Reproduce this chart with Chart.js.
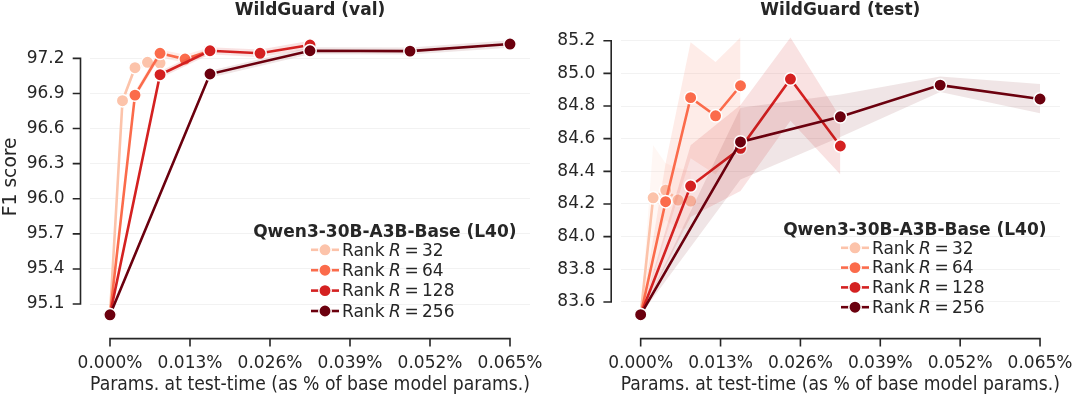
<!DOCTYPE html>
<html><head><meta charset="utf-8">
<script src="https://cdn.jsdelivr.net/npm/chart.js@4.4.1/dist/chart.umd.min.js"></script>
<style>
html,body{margin:0;padding:0;background:#fff;}
body{width:1080px;height:397px;position:relative;overflow:hidden;}
#c1{position:absolute;left:0;top:0;}
#c2{position:absolute;left:540px;top:0;}
</style></head><body>
<canvas id="c1" width="580" height="397"></canvas>
<canvas id="c2" width="540" height="397"></canvas>
<script>
// ---------- data ----------
const ranks = [32, 64, 128, 256];
const rankColors = ['#fcc3aa', '#fb6b4b', '#d42121', '#6b000e'];

// x: params at test-time (% of base model params)
const xR32  = [0, 0.00203, 0.00406, 0.00609, 0.00813];
const xR64  = [0, 0.00406, 0.00813, 0.01219, 0.01625];
const xR128 = [0, 0.00813, 0.01625, 0.02438, 0.0325];
const xR256 = [0, 0.01625, 0.0325, 0.04875, 0.065];

// WildGuard (val) F1
const valR32  = [95.008, 96.838, 97.120, 97.166, 97.160];
const valR64  = [95.008, 96.886, 97.243, 97.194, 97.262];
const valR128 = [95.008, 97.060, 97.265, 97.243, 97.314];
const valR256 = [95.008, 97.066, 97.265, 97.262, 97.322];
const valLoR32  = [95.008, 96.805, 97.090, 97.135, 97.125];
const valHiR32  = [95.008, 96.870, 97.150, 97.195, 97.195];
const valLoR64  = [95.008, 96.855, 97.210, 97.160, 97.230];
const valHiR64  = [95.008, 96.920, 97.275, 97.230, 97.295];
const valLoR128 = [95.008, 97.030, 97.235, 97.210, 97.280];
const valHiR128 = [95.008, 97.090, 97.295, 97.275, 97.350];
const valLoR256 = [95.008, 97.035, 97.235, 97.232, 97.290];
const valHiR256 = [95.008, 97.095, 97.295, 97.292, 97.355];

// WildGuard (test) F1
const testR32  = [83.522, 84.238, 84.285, 84.224, 84.218];
const testR64  = [83.522, 84.214, 84.851, 84.740, 84.924];
const testR128 = [83.522, 84.310, 84.541, 84.965, 84.555];
const testR256 = [83.522, 84.580, 84.734, 84.928, 84.843];
const testLoR32  = [83.522, 83.950, 84.100, 84.050, 84.050];
const testHiR32  = [83.522, 84.560, 84.450, 84.420, 84.400];
const testLoR64  = [83.522, 84.000, 84.480, 84.380, 84.600];
const testHiR64  = [83.522, 84.450, 85.190, 85.070, 85.220];
const testLoR128 = [83.522, 84.120, 84.280, 84.710, 84.380];
const testHiR128 = [83.522, 84.560, 84.806, 85.220, 84.730];
const testLoR256 = [83.522, 84.350, 84.610, 84.885, 84.755];
const testHiR256 = [83.522, 84.790, 84.870, 84.980, 84.935];

const xTicks = [0, 0.013, 0.026, 0.039, 0.052, 0.065];
const valYTicks  = [95.1, 95.4, 95.7, 96.0, 96.3, 96.6, 96.9, 97.2];
const testYTicks = [83.6, 83.8, 84.0, 84.2, 84.4, 84.6, 84.8, 85.0, 85.2];

const xSeries = [xR32, xR64, xR128, xR256];
const valSeries = [valR32, valR64, valR128, valR256];
const valLo = [valLoR32, valLoR64, valLoR128, valLoR256];
const valHi = [valHiR32, valHiR64, valHiR128, valHiR256];
const testSeries = [testR32, testR64, testR128, testR256];
const testLo = [testLoR32, testLoR64, testLoR128, testLoR256];
const testHi = [testHiR32, testHiR64, testHiR128, testHiR256];

// ---------- helpers ----------
const FONT = '"DejaVu Sans", "Liberation Sans", sans-serif';
const TXT = '#262626';
function hexA(hex, a) {
  const n = parseInt(hex.slice(1), 16);
  return `rgba(${(n>>16)&255},${(n>>8)&255},${n&255},${a})`;
}
function pts(xs, ys) { return xs.map((x, i) => ({x, y: ys[i]})); }

function buildDatasets(ys, lo, hi) {
  const ds = [];
  ranks.forEach((r, i) => {
    const o = (4 - i) * 10;
    const c = rankColors[i];
    ds.push({ data: pts(xSeries[i], lo[i]), borderWidth: 0, pointRadius: 0, fill: false, order: o + 2, borderColor: 'rgba(0,0,0,0)' });
    ds.push({ data: pts(xSeries[i], hi[i]), borderWidth: 0, pointRadius: 0, fill: '-1', order: o + 1,
              borderColor: 'rgba(0,0,0,0)', backgroundColor: hexA(c, i === 3 ? 0.1 : 0.13) });
    ds.push({ label: 'Rank R = ' + r, data: pts(xSeries[i], ys[i]), borderColor: c, borderWidth: 2.6,
              pointRadius: 6.2, pointBackgroundColor: c, pointBorderColor: '#ffffff', pointBorderWidth: 1.5,
              fill: false, order: o, tension: 0 });
  });
  return ds;
}

const spinePlugin = {
  id: 'spines',
  afterDraw(chart) {
    const {ctx, chartArea} = chart;
    const x = chart.scales.x, y = chart.scales.y;
    ctx.save();
    ctx.strokeStyle = TXT; ctx.lineWidth = 1.6; ctx.lineCap = 'square';
    const sx = chartArea.left - 9.5;
    const yp = y.ticks.map(t => y.getPixelForValue(t.value));
    ctx.beginPath();
    ctx.moveTo(sx, Math.min(...yp)); ctx.lineTo(sx, Math.max(...yp));
    yp.forEach(p => { ctx.moveTo(sx - 7, p); ctx.lineTo(sx, p); });
    const sy = chartArea.bottom + 10;
    const xp = x.ticks.map(t => x.getPixelForValue(t.value));
    ctx.moveTo(Math.min(...xp), sy); ctx.lineTo(Math.max(...xp), sy);
    xp.forEach(p => { ctx.moveTo(p, sy); ctx.lineTo(p, sy + 7); });
    ctx.stroke();
    ctx.restore();
  }
};

const legendPlugin = {
  id: 'rankLegend',
  afterDraw(chart, args, opts) {
    const {ctx, chartArea} = chart;
    ctx.save();
    ctx.fillStyle = TXT;
    ctx.textBaseline = 'alphabetic';
    ctx.font = 'bold 17px ' + FONT;
    ctx.textAlign = 'right';
    ctx.fillText(opts.title, chartArea.right - 13.5, opts.titleY + 6.2);
    ctx.textAlign = 'left';
    ranks.forEach((r, i) => {
      const cy = opts.y0 + i * opts.dy;
      const cx = chartArea.right - 205;
      const c = rankColors[i];
      ctx.strokeStyle = c; ctx.lineWidth = 2.6;
      ctx.beginPath(); ctx.moveTo(cx - 14, cy + 0.5); ctx.lineTo(cx + 14, cy + 0.5); ctx.stroke();
      ctx.beginPath(); ctx.arc(cx, cy + 0.5, 6.2, 0, Math.PI * 2);
      ctx.fillStyle = c; ctx.fill();
      ctx.strokeStyle = '#fff'; ctx.lineWidth = 1.5; ctx.stroke();
      ctx.fillStyle = TXT;
      const tx = chartArea.right - 188;
      const by = cy + 6.2;
      ctx.font = '17px ' + FONT;
      ctx.fillText('Rank', tx, by);
      ctx.font = 'italic 17px ' + FONT;
      ctx.fillText('R', tx + 47, by);
      ctx.font = '17px ' + FONT;
      ctx.fillText('=', tx + 62.5, by);
      ctx.fillText(String(r), tx + 80, by);
    });
    ctx.restore();
  }
};

function makeChart(id, title, ys, lo, hi, yMin, yMax, yTicks, opts) {
  return new Chart(document.getElementById(id), {
    type: 'line',
    data: { datasets: buildDatasets(ys, lo, hi) },
    plugins: [spinePlugin, legendPlugin],
    options: {
      responsive: false, animation: false, events: [],
      layout: { padding: { left: 0, right: opts.padRight, top: 0, bottom: 0 } },
      plugins: {
        legend: { display: false }, tooltip: { enabled: false },
        title: { display: true, text: title, fullSize: false, color: TXT,
                 font: { family: FONT, size: 17, weight: 'bold', lineHeight: 1.2 },
                 padding: { top: 0, bottom: 4.6 } },
        rankLegend: { title: 'Qwen3-30B-A3B-Base (L40)', titleY: opts.titleY, y0: opts.y0, dy: opts.dy }
      },
      scales: {
        x: {
          type: 'linear', min: -0.00325, max: 0.06825,
          afterBuildTicks: s => { s.ticks = xTicks.map(v => ({value: v})); },
          afterFit: s => { s.height = 68.4; s.paddingLeft = 0; s.paddingRight = 0; },
          grid: { display: false, drawTicks: false },
          border: { display: false },
          ticks: { autoSkip: false, maxRotation: 0, minRotation: 0, padding: 25, color: TXT,
                   font: { family: FONT, size: 17 }, callback: v => v.toFixed(3) + '%' },
          title: { display: true, text: 'Params. at test-time (as % of base model params.)', color: TXT,
                   font: { family: FONT, size: 18.7 }, padding: { top: 0, bottom: 1 } }
        },
        y: {
          type: 'linear', min: yMin, max: yMax,
          afterBuildTicks: s => { s.ticks = yTicks.map(v => ({value: v})); },
          afterFit: s => { s.width = opts.yWidth; s.paddingTop = 0; s.paddingBottom = 0; },
          grid: { display: true, drawTicks: false, color: 'rgba(0,0,0,0.05)', lineWidth: 1 },
          border: { display: false },
          ticks: { padding: 25.5, color: TXT, font: { family: FONT, size: 17 }, callback: v => v.toFixed(1) },
          title: { display: opts.yTitle, text: 'F1 score', color: TXT,
                   font: { family: FONT, size: 18.7 }, padding: { top: 0, bottom: 0 } }
        }
      }
    }
  });
}

makeChart('c1', 'WildGuard (val)', valSeries, valLo, valHi, 94.890, 97.485, valYTicks,
          { padRight: 50, yWidth: 90, yTitle: true, titleY: 230.3, y0: 249.3, dy: 20.4 });
makeChart('c2', 'WildGuard (test)', testSeries, testLo, testHi, 83.437, 85.296, testYTicks,
          { padRight: 20, yWidth: 80.7, yTitle: false, titleY: 228.3, y0: 247.3, dy: 19.8 });
</script>
</body></html>
